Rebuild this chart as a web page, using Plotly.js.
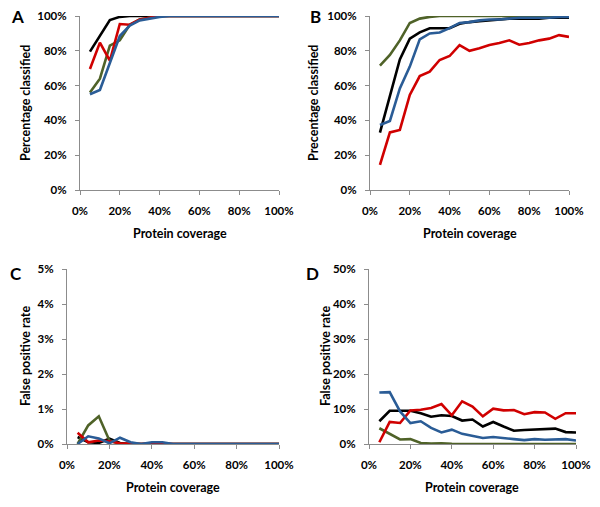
<!DOCTYPE html>
<html><head><meta charset="utf-8">
<script src="https://cdn.plot.ly/plotly-3.0.1.min.js"></script>
<style>html,body{margin:0;padding:0;background:#fff}#chart{width:600px;height:507px}</style>
</head><body><div id="chart"></div>
<script>
const coverage = [5,10,15,20,25,30,35,40,45,50,55,60,65,70,75,80,85,90,95,100];

const aBlack = [79.5,89,97.7,99.5,100,100,100,100,100,100,100,100,100,100,100,100,100,100,100,100];
const aRed   = [69.5,84.7,74.3,95.4,95,98,99,100,100,100,100,100,100,100,100,100,100,100,100,100];
const aGreen = [56,64,83,86,95,98,99,100,100,100,100,100,100,100,100,100,100,100,100,100];
const aBlue  = [55,57.5,73,88.5,94.5,97.5,98.5,99.5,100,100,100,100,100,100,100,100,100,100,100,100];

const bBlack = [33,53.6,75,87,90.6,93,93,93,95.5,96.5,97,97.5,98,98.5,98.5,98.5,98.5,99,99,99];
const bRed   = [14.4,33.1,34.5,54.6,65.5,68,74.7,77,83.3,80,81.5,83.3,84.5,86,83.5,84.5,86,87,89,88];
const bGreen = [71.5,77.6,86,96,98.5,99.5,100,100,100,100,100,100,100,100,100,100,100,100,100,100];
const bBlue  = [37.4,39.7,58.4,70.9,86.6,90,90.5,93,96,96.5,97.5,98,98,98.5,99,99,99,99,99.5,99.5];

const cBlack = [0.2,0.05,0.03,0.15,0.03,0,0,0,0,0,0,0,0,0,0,0,0,0,0,0];
const cRed   = [0.32,0.05,0.1,0.08,0.02,0,0,0.02,0,0,0,0,0,0,0,0,0,0,0,0];
const cGreen = [0,0.53,0.79,0.1,0,0,0,0,0,0,0,0,0,0,0,0,0,0,0,0];
const cBlue  = [0,0.22,0.16,0.02,0.18,0.05,0,0.05,0.05,0,0,0,0,0,0,0,0,0,0,0];

const dBlack = [6.5,9.5,9.5,9.5,8.8,7.8,8.2,8.0,6.7,7.0,5.0,6.3,5.0,3.8,4.0,4.2,4.2,4.4,3.4,3.3];
const dRed   = [0.5,6.3,6.0,9.6,9.8,10.3,11.4,8.2,12.2,10.7,7.9,10.1,9.6,9.7,8.5,9.1,9.0,7.2,8.8,8.8];
const dGreen = [4.5,3.0,1.3,1.4,0.3,0.1,0.2,0.05,0,0,0,0,0,0,0,0,0,0,0,0];
const dBlue  = [14.7,14.8,9.3,6.0,6.5,4.6,3.3,4.1,2.9,2.4,1.7,2.0,1.8,1.4,1.1,1.4,1.2,1.2,1.4,1.0];

const xTickVals = [0,20,40,60,80,100];
const xTickText = ['0%','20%','40%','60%','80%','100%'];
const panelLetters = ['A','B','C','D'];
const yTitles = ['Percentage classified','Precentage classified','False positive rate','False positive rate'];
const xTitle = 'Protein coverage';

const COL = {black:'#000000', red:'#D00000', green:'#4F6228', blue:'#2A5C96'};
const W = 2.6;
function tr(x, y, col, xa, ya){
  return {x:x, y:y, type:'scatter', mode:'lines', line:{color:col, width:W}, xaxis:xa, yaxis:ya, hoverinfo:'skip', showlegend:false};
}
const sets = [
  [aBlack,aGreen,aRed,aBlue,'x','y'],
  [bBlack,bGreen,bRed,bBlue,'x2','y2'],
  [cBlack,cGreen,cRed,cBlue,'x3','y3'],
  [dBlack,dGreen,dRed,dBlue,'x4','y4']
];
const data = [];
sets.forEach(s=>{
  data.push(tr(coverage,s[0],COL.black,s[4],s[5]));
  data.push(tr(coverage,s[1],COL.green,s[4],s[5]));
  data.push(tr(coverage,s[2],COL.red,s[4],s[5]));
  data.push(tr(coverage,s[3],COL.blue,s[4],s[5]));
});

const FONT = 'Lato, Open Sans, sans-serif';
const tickFont = {family:FONT, size:11.5, color:'#000', weight:'bold'};
function xax(dom, anchor){
  return {domain:dom, anchor:anchor, range:[0,100], tickmode:'array', tickvals:xTickVals, ticktext:xTickText,
    showgrid:false, zeroline:false, showline:true, linecolor:'#8c8c8c', linewidth:1,
    ticks:'outside', ticklen:4, tickcolor:'#8c8c8c', tickfont:tickFont, ticklabelstandoff:6, fixedrange:true};
}
function yax(dom, anchor, max, dt){
  return {domain:dom, anchor:anchor, range:[0,max], dtick:dt, ticksuffix:'%',
    showgrid:false, zeroline:false, showline:true, linecolor:'#8c8c8c', linewidth:1,
    ticks:'outside', ticklen:4, tickcolor:'#8c8c8c', tickfont:tickFont, ticklabelstandoff:6, fixedrange:true};
}
const yTop = [1-190/507, 1-16/507];
const yBot = [1-444/507, 1-269/507];

const ann = [];
const letterPos = [[17,17],[316,17],[16,273],[313,273]];
letterPos.forEach((p,i)=>{
  ann.push({text:panelLetters[i], x:p[0]/600, y:1-p[1]/507, xref:'paper', yref:'paper', showarrow:false,
    xanchor:'center', yanchor:'middle', font:{family:FONT, size:17, weight:'bold', color:'#000'}});
});
const yTitlePos = [[25,103],[313,103],[25,356],[325,356]];
yTitlePos.forEach((p,i)=>{
  ann.push({text:yTitles[i], x:p[0]/600, y:1-p[1]/507, xref:'paper', yref:'paper', showarrow:false, textangle:-90,
    xanchor:'center', yanchor:'middle', font:{family:FONT, size:12.5, weight:'bold', color:'#000'}});
});
const xTitlePos = [[180,233],[470,233],[173,487],[472,487]];
xTitlePos.forEach(p=>{
  ann.push({text:xTitle, x:p[0]/600, y:1-p[1]/507, xref:'paper', yref:'paper', showarrow:false,
    xanchor:'center', yanchor:'middle', font:{family:FONT, size:12.5, weight:'bold', color:'#000'}});
});

const layout = {
  width:600, height:507, margin:{l:0,r:0,t:0,b:0},
  paper_bgcolor:'#fff', plot_bgcolor:'#fff', showlegend:false,
  xaxis: xax([80/600,279/600],'y'),
  yaxis: yax(yTop,'x',100,20),
  xaxis2: xax([370/600,569/600],'y2'),
  yaxis2: yax(yTop,'x2',100,20),
  xaxis3: xax([67/600,279/600],'y3'),
  yaxis3: yax(yBot,'x3',5,1),
  xaxis4: xax([369/600,576/600],'y4'),
  yaxis4: yax(yBot,'x4',50,10),
  annotations: ann
};
Plotly.newPlot('chart', data, layout, {staticPlot:true, displayModeBar:false});
</script></body></html>
